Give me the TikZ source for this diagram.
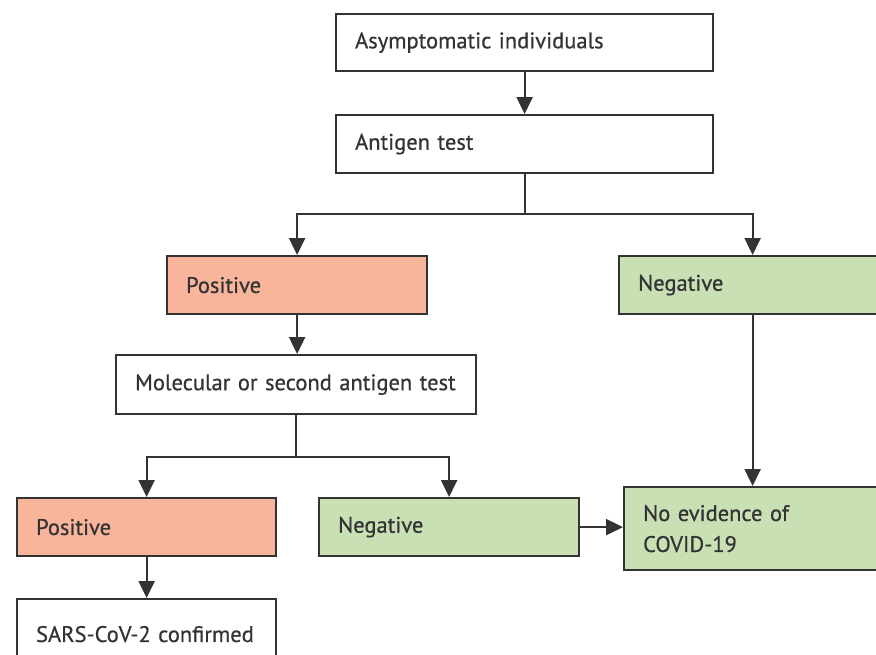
\documentclass[tikz,border=0pt]{standalone}
\usepackage{fontspec}
\setmainfont{PT Sans}[UprightFeatures={FakeBold=0.6}, WordSpace=0.75]
\usetikzlibrary{arrows.meta}
\definecolor{linec}{HTML}{333333}
\definecolor{txt}{HTML}{333333}
\definecolor{posfill}{HTML}{F8B59C}
\definecolor{negfill}{HTML}{C9E0B5}
\tikzset{
  box/.style={draw=linec, line width=2.2pt, anchor=north west, inner xsep=19pt, inner ysep=0pt,
    align=left, text=txt, font=\fontsize{22.5}{31}\selectfont},
  posbox/.style={box, fill=posfill},
  negbox/.style={box, fill=negfill},
  arr/.style={draw=linec, line width=2.2pt, -{Triangle[length=17pt,width=16pt]}},
  con/.style={draw=linec, line width=2.2pt}
}
\begin{document}
\begin{tikzpicture}[x=1pt,y=-1pt]
\useasboundingbox[fill=white] (0,0) rectangle (876,654);
\node[box, text width=339pt, minimum height=57pt] (asym) at (335,13) {Asymptomatic individuals};
\node[box, text width=339pt, minimum height=58pt] (ag) at (335,114) {Antigen test};
\node[posbox, text width=222pt, minimum height=58pt] (pos1) at (166,255) {Positive};
\node[negbox, text width=229pt, minimum height=58pt] (neg1) at (618,255) {Negative};
\node[box, text width=322pt, minimum height=59pt] (mol) at (115,354) {Molecular or second antigen test};
\node[posbox, text width=221pt, minimum height=58pt] (pos2) at (16,497) {Positive};
\node[negbox, text width=222pt, minimum height=58pt] (neg2) at (318,497) {Negative};
\node[negbox, text width=224pt, minimum height=83pt] (noev) at (623,486) {No evidence of\\COVID-19};
\node[box, text width=221pt, minimum height=70pt] (sars) at (16,598) {SARS-CoV-2 confirmed};

\draw[arr] (asym) -- (ag);
\draw[con] (ag.south) -- ++(0,40) coordinate (s1);
\draw[arr] (s1) -| (pos1.north);
\draw[arr] (s1) -| (neg1.north);
\draw[arr] (pos1.south) -- (pos1.south |- mol.north);
\draw[con] (mol.south) -- ++(0,42) coordinate (s2);
\draw[arr] (s2) -| (pos2.north);
\draw[arr] (s2) -| (neg2.north);
\draw[arr] (neg1.south) -- (neg1.south |- noev.north);
\draw[arr] (neg2.east) -- (neg2.east -| noev.west);
\draw[arr] (pos2) -- (sars);
\end{tikzpicture}
\end{document}
